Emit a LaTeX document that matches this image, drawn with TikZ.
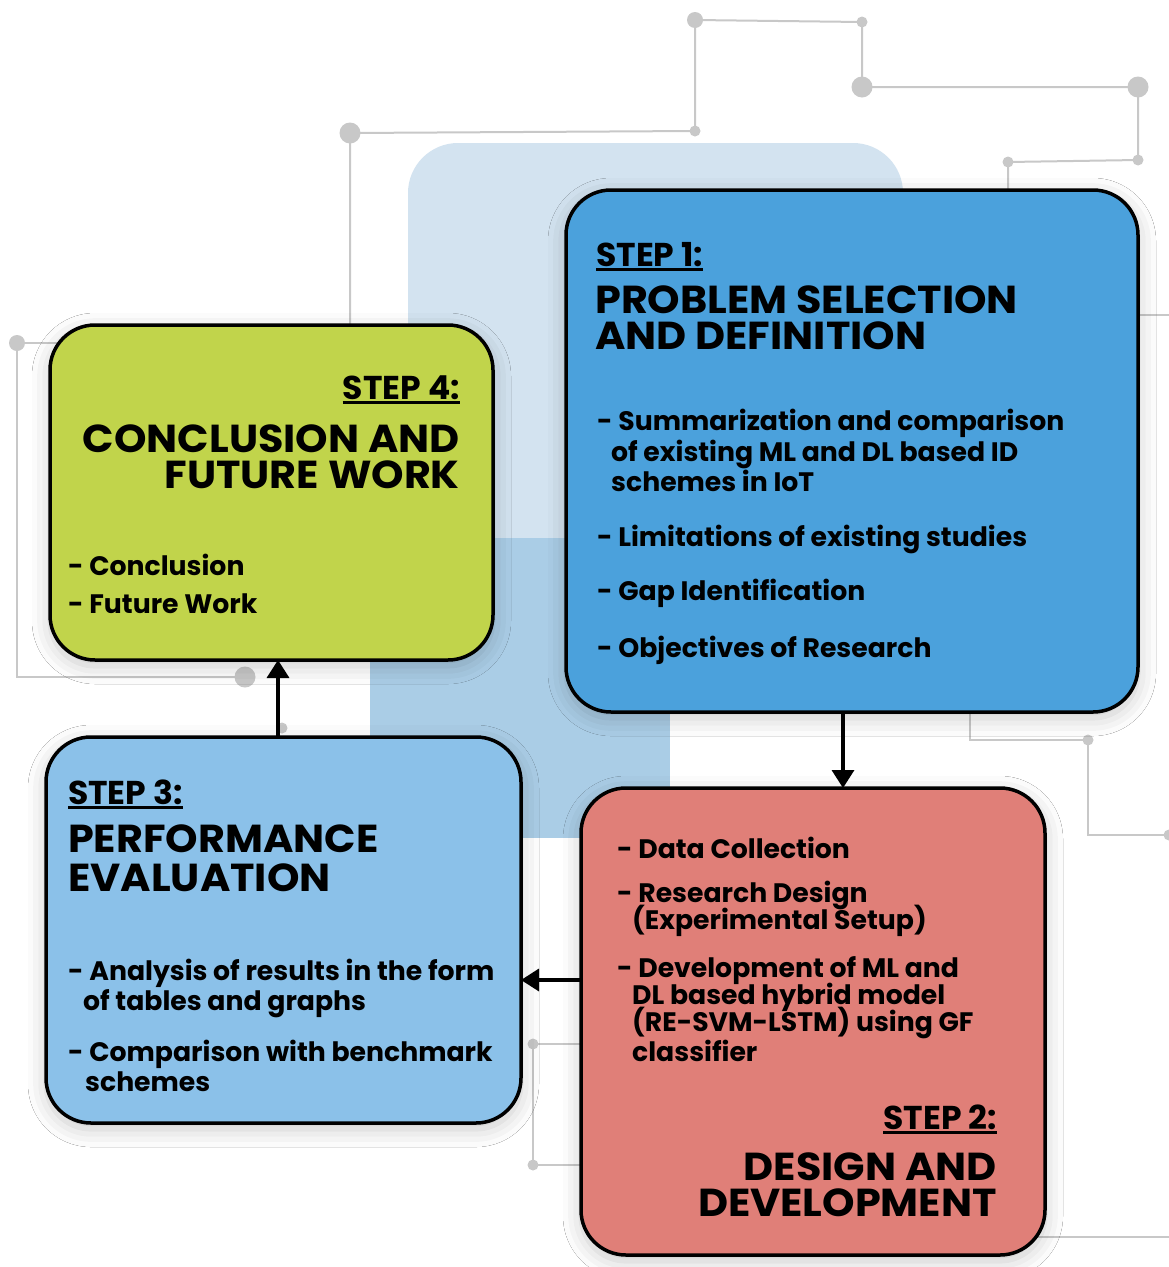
\documentclass[tikz,border=0pt]{standalone}
\usepackage{fontspec}
\setmainfont{Poppins}
\newfontfamily\headfont{Poppins}[FakeStretch=1.06]
\usetikzlibrary{arrows.meta,shadows.blur}

\definecolor{sonebl}{HTML}{4BA1DC}
\definecolor{stwored}{HTML}{E07F78}
\definecolor{sthrbl}{HTML}{8BC1E9}
\definecolor{sfourgr}{HTML}{C1D44B}
\definecolor{bglight}{HTML}{D3E3F0}
\definecolor{bgdark}{HTML}{AACDE6}
\definecolor{wiregray}{HTML}{C8C8C8}

\tikzset{
  stepbox/.style={draw=black, line width=3.5pt, rounded corners=45pt, anchor=north west,
    inner sep=0pt, outer sep=0pt,
    blur shadow={shadow xshift=0pt, shadow yshift=-6pt, shadow blur radius=18pt, shadow opacity=22}},
  wire/.style={draw=wiregray, line width=2pt},
  dotbig/.style={circle, fill=wiregray, inner sep=0pt, minimum size=21pt},
  dotmid/.style={circle, fill=wiregray, inner sep=0pt, minimum size=16pt},
  dotsml/.style={circle, fill=wiregray, inner sep=0pt, minimum size=11pt},
  flow/.style={line width=3.5pt, -{Triangle[width=22pt,length=18pt]}},
  body/.style={inner sep=0pt, font=\fontsize{26.7}{31}\selectfont\bfseries},
  head/.style={inner sep=0pt, font=\headfont\fontsize{39}{42}\selectfont\bfseries},
  steplbl/.style={inner sep=0pt, font=\fontsize{33}{36}\selectfont\bfseries},
  uline/.style={line width=2.6pt},
}

\begin{document}
\begin{tikzpicture}[x=1pt,y=-1pt]
\useasboundingbox (0,0) rectangle (1169,1267);
\fill[white] (0,0) rectangle (1169,1267);

% background panels
\fill[bglight, rounded corners=50pt] (408,143) rectangle (903,700);
\fill[bgdark] (370,538) rectangle (670,838);

% circuit traces
\node[dotmid] (c1) at (695,20) {};
\node[dotsml] (c2) at (862,22) {};
\node[dotbig] (c3) at (862,87) {};
\node[dotbig] (c4) at (1138,87) {};
\node[dotsml] (c5) at (1138,160) {};
\node[dotsml] (c6) at (1008,162) {};
\node[dotsml] (c7) at (695,131) {};
\node[dotbig] (c8) at (350,133) {};
\node[dotmid] (c9) at (17,343) {};
\node[dotbig] (c10) at (245,677) {};
\node[dotsml] (c11) at (282,728) {};
\node[dotsml] (c12) at (1088,740) {};
\node[dotsml] (c13) at (1169,835) {};
\node[dotsml] (c14) at (533,1044) {};
\node[dotsml] (c15) at (533,1165) {};
\coordinate (w1) at (1008,200);
\coordinate (w2) at (350,340);
\coordinate (w3) at (60,343);
\coordinate (w4) at (17,677);
\coordinate (w5) at (1120,315);
\coordinate (w6) at (1169,315);
\coordinate (w7) at (970,700);
\coordinate (w8) at (970,740);
\coordinate (w9) at (1088,835);
\coordinate (w10) at (1030,1237);
\coordinate (w11) at (1169,1237);
\coordinate (w12) at (600,1044);
\coordinate (w13) at (600,1165);
\draw[wire] (c1.center) -- (c2.center) -- (c3.center) -- (c4.center) -- (c5.center) -- (c6.center) -- (w1);
\draw[wire] (c1.center) -- (c7.center) -- (c8.center) -- (w2);
\draw[wire] (w3) -- (c9.center) -- (w4) -- (c10.center);
\draw[wire] (w5) -- (w6);
\draw[wire] (w7) -- (w8) -- (c12.center) -- (w9) -- (c13.center);
\draw[wire] (w10) -- (w11);
\draw[wire] (w12) -- (c14.center) -- (c15.center) -- (w13);

% step boxes
\node[stepbox, fill=sonebl, minimum width=572pt, minimum height=522pt] (s1) at (566,190) {};
\node[stepbox, fill=sfourgr, minimum width=443pt, minimum height=335pt] (s4) at (50,325) {};
\node[stepbox, fill=sthrbl, minimum width=475pt, minimum height=386pt] (s3) at (46,737) {};
\node[stepbox, fill=stwored, minimum width=464pt, minimum height=467pt] (s2) at (581,788) {};

% flow arrows
\coordinate (a1) at (843,0);
\coordinate (a2) at (0,980);
\coordinate (a3) at (278,0);
\draw[flow] (s1.south -| a1) -- (s2.north -| a1);
\draw[flow] (s2.west |- a2) -- (s3.east |- a2);
\draw[flow] (s3.north -| a3) -- (s4.south -| a3);

% step 1 text
\node[steplbl, anchor=base west] (t1a) at (596,266) {STEP 1:};
\node[head, anchor=base west] (t1b) at (595,313) {PROBLEM SELECTION};
\node[head, anchor=base west] (t1c) at (595,349) {AND DEFINITION};
\node[body, anchor=base west] (t1d) at (597,430) {- Summarization and comparison};
\node[body, anchor=base west] (t1e) at (611,461) {of existing ML and DL based ID};
\node[body, anchor=base west] (t1f) at (611,491) {schemes in IoT};
\node[body, anchor=base west] (t1g) at (597,546) {- Limitations of existing studies};
\node[body, anchor=base west] (t1h) at (597,600) {- Gap Identification};
\node[body, anchor=base west] (t1i) at (597,657) {- Objectives of Research};

% step 4 text
\node[steplbl, anchor=base east] (t4a) at (460,399) {STEP 4:};
\node[head, anchor=base east] (t4b) at (460,452) {CONCLUSION AND};
\node[head, anchor=base east] (t4c) at (460,488) {FUTURE WORK};
\node[body, anchor=base west] (t4d) at (68,575) {- Conclusion};
\node[body, anchor=base west] (t4e) at (68,613) {- Future Work};

% step 3 text
\node[steplbl, anchor=base west] (t3a) at (68,804) {STEP 3:};
\node[head, anchor=base west] (t3b) at (68,852) {PERFORMANCE};
\node[head, anchor=base west] (t3c) at (68,891) {EVALUATION};
\node[body, anchor=base west] (t3d) at (68,980) {- Analysis of results in the form};
\node[body, anchor=base west] (t3e) at (83,1010) {of tables and graphs};
\node[body, anchor=base west] (t3f) at (68,1061) {- Comparison with benchmark};
\node[body, anchor=base west] (t3g) at (85,1091) {schemes};

% step 2 text
\node[body, anchor=base west] (t2a) at (617,858) {- Data Collection};
\node[body, anchor=base west] (t2b) at (617,902) {- Research Design};
\node[body, anchor=base west] (t2c) at (632,929) {(Experimental Setup)};
\node[body, anchor=base west] (t2d) at (617,977) {- Development of ML and};
\node[body, anchor=base west] (t2e) at (632,1004) {DL based hybrid model};
\node[body, anchor=base west] (t2f) at (632,1031) {(RE-SVM-LSTM) using GF};
\node[body, anchor=base west] (t2g) at (632,1061) {classifier};
\node[steplbl, anchor=base east] (t2h) at (997,1129) {STEP 2:};
\node[head, anchor=base east] (t2i) at (997,1180) {DESIGN AND};
\node[head, anchor=base east] (t2j) at (997,1216) {DEVELOPMENT};

% underlines of the step labels
\foreach \lb in {t1a,t2h,t3a,t4a}
  \draw[uline] ([yshift=-3.5pt]\lb.base west) -- ([yshift=-3.5pt]\lb.base east);
\end{tikzpicture}
\end{document}
